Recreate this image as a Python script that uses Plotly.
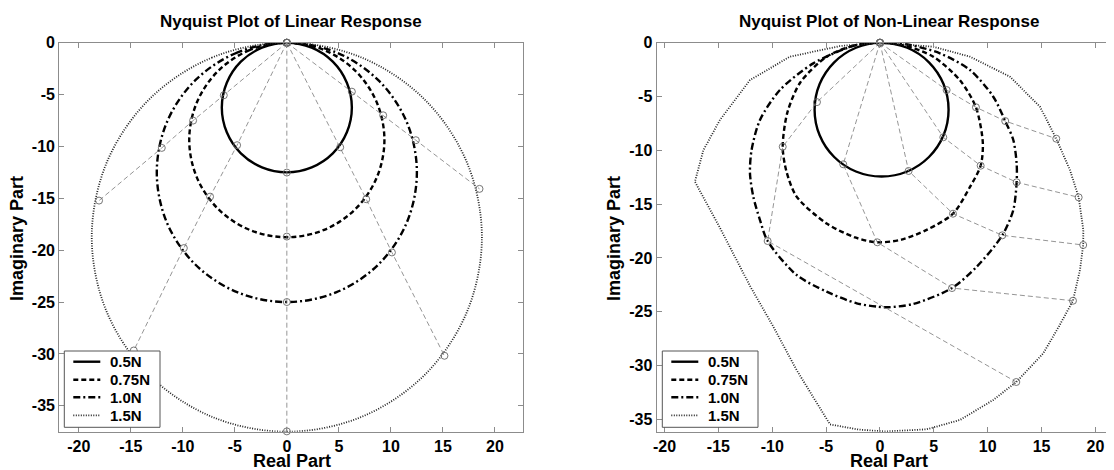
import plotly.graph_objects as go

# ---------------- data ----------------
names = ["0.5N", "0.75N", "1.0N", "1.5N"]

# Linear response curves (real part, imaginary part)
lin_05_re = [0, -2.39, -4.42, -5.77, -6.25, -5.77, -4.42, -2.39, 0, 2.39, 4.42, 5.77, 6.25, 5.77, 4.42, 2.39, 0]
lin_05_im = [0, -0.48, -1.83, -3.86, -6.25, -8.64, -10.67, -12.02, -12.5, -12.02, -10.67, -8.64, -6.25, -3.86, -1.83, -0.48, 0]
lin_075_re = [0, -3.59, -6.63, -8.66, -9.38, -8.66, -6.63, -3.59, 0, 3.59, 6.63, 8.66, 9.38, 8.66, 6.63, 3.59, 0]
lin_075_im = [0, -0.71, -2.75, -5.79, -9.38, -12.96, -16.0, -18.04, -18.75, -18.04, -16.0, -12.96, -9.38, -5.79, -2.75, -0.71, 0]
lin_10_re = [0, -4.78, -8.84, -11.55, -12.5, -11.55, -8.84, -4.78, 0, 4.78, 8.84, 11.55, 12.5, 11.55, 8.84, 4.78, 0]
lin_10_im = [0, -0.95, -3.66, -7.71, -12.5, -17.29, -21.34, -24.05, -25.0, -24.05, -21.34, -17.29, -12.5, -7.71, -3.66, -0.95, 0]
lin_15_re = [0, -7.18, -13.26, -17.32, -18.75, -17.32, -13.26, -7.18, 0, 7.18, 13.26, 17.32, 18.75, 17.32, 13.26, 7.18, 0]
lin_15_im = [0, -1.43, -5.49, -11.57, -18.75, -25.93, -32.01, -36.07, -37.5, -36.07, -32.01, -25.93, -18.75, -11.57, -5.49, -1.43, 0]

# Linear response: equal-frequency points (origin, 0.5N, 0.75N, 1.0N, 1.5N)
lin_ray1_re = [0, -6.06, -9.01, -12.02, -18.05]
lin_ray1_im = [0, -5.07, -7.51, -10.14, -15.22]
lin_ray2_re = [0, -4.78, -7.38, -9.9, -14.71]
lin_ray2_im = [0, -9.88, -14.84, -19.8, -29.67]
lin_ray3_re = [0, 0, 0, 0, 0]
lin_ray3_im = [0, -12.52, -18.69, -25.0, -37.47]
lin_ray4_re = [0, 5.13, 7.63, 10.1, 15.15]
lin_ray4_im = [0, -10.08, -15.09, -20.22, -30.18]
lin_ray5_re = [0, 6.25, 9.26, 12.4, 18.52]
lin_ray5_im = [0, -4.72, -7.0, -9.4, -14.09]

# Non-linear response curves
nl_05_re = [0, -2.23, -4.25, -5.6, -6.07, -5.6, -4.25, -2.23, 0.15, 2.53, 4.55, 5.9, 6.37, 5.9, 4.55, 2.53, 0]
nl_05_im = [0, -0.47, -1.82, -3.84, -6.22, -8.6, -10.62, -11.97, -12.44, -11.97, -10.62, -8.6, -6.22, -3.84, -1.82, -0.47, 0]
nl_075_re = [0, -2.5, -4.95, -7.4, -8.6, -9.03, -8.7, -7.74, -4.95, -2.3, -0.25, 2.0, 4.33, 6.78, 8.36, 9.35, 9.55, 8.91, 7.43, 4.95, 2.2, 0]
nl_075_im = [0, -0.3, -1.3, -3.7, -6.5, -9.67, -11.9, -14.3, -16.8, -18.1, -18.55, -18.3, -17.4, -15.89, -13.4, -11.43, -9.3, -6.0, -3.5, -1.3, -0.25, 0]
nl_10_re = [0, -2.16, -6.19, -9.29, -11.14, -11.92, -12.07, -11.76, -11.14, -10.43, -7.74, -4.95, -2.16, -0.25, 0.62, 3.09, 6.69, 8.98, 11.36, 12.38, 12.69, 12.69, 12.38, 11.63, 10.52, 8.36, 5.57, 2.79, 0]
nl_10_im = [0, -0.2, -1.92, -4.4, -7.18, -9.97, -12.14, -14.31, -16.48, -18.43, -21.59, -23.14, -24.22, -24.53, -24.59, -24.28, -22.8, -20.82, -17.9, -15.55, -12.97, -11.21, -9.04, -7.28, -5.02, -2.54, -0.99, -0.21, 0]
nl_15_re = [0, -3.71, -8.36, -12.07, -14.86, -16.4, -17.18, -14.86, -12.07, -9.9, -7.74, -4.64, -2.0, 0.5, 4.33, 7.43, 10.52, 12.66, 15.16, 16.6, 17.92, 18.57, 18.87, 18.88, 18.45, 17.64, 16.37, 14.86, 12.07, 8.36, 4.95, 0]
nl_15_im = [0, -0.31, -1.3, -3.47, -7.18, -10.0, -12.92, -17.2, -22.6, -26.39, -30.42, -35.47, -35.95, -36.13, -35.93, -35.06, -33.2, -31.53, -28.87, -26.4, -23.98, -21.12, -18.8, -17.4, -14.37, -11.83, -8.92, -5.95, -3.16, -1.3, -0.37, 0]

# Non-linear response: equal-frequency points
nl_ray1_re = [0, -5.85, -9.03, -10.43, 12.66]
nl_ray1_im = [0, -5.52, -9.67, -18.43, -31.53]
nl_ray2_re = [0, -3.41, -0.25, 6.69, 17.92]
nl_ray2_im = [0, -11.3, -18.55, -22.8, -23.98]
nl_ray3_re = [0, 2.66, 6.78, 11.36, 18.87]
nl_ray3_im = [0, -11.92, -15.89, -17.9, -18.8]
nl_ray4_re = [0, 5.88, 9.35, 12.69, 18.45]
nl_ray4_im = [0, -8.79, -11.43, -12.97, -14.37]
nl_ray5_re = [0, 6.19, 8.91, 11.63, 16.37]
nl_ray5_im = [0, -4.4, -6.0, -7.28, -8.92]

x_ticks = [-20, -15, -10, -5, 0, 5, 10, 15, 20]
y_ticks = [0, -5, -10, -15, -20, -25, -30, -35]
x_ticktext = ["-20", "-15", "-10", "-5", "0", "5", "10", "15", "20"]
y_ticktext = ["0", "-5", "-10", "-15", "-20", "-25", "-30", "-35"]

# ---------------- styles ----------------
FONT = "Liberation Sans"
styles = [
    dict(color="black", width=2.4, dash="solid"),
    dict(color="black", width=2.4, dash="5px,3px"),
    dict(color="black", width=2.4, dash="7px,3px,2px,3px"),
    dict(color="#222222", width=1.8, dash="1px,1.5px"),
]
RAY_COLOR = "#7a7a7a"

# the page shows the figure with an 8 px body margin, so lay out in page pixels
OFF = 8
W, H = 1114 - OFF, 470 - OFF


def px_x(p):
    return (p - OFF) / W


def px_y(p):
    return (H - (p - OFF)) / H


fig = go.Figure()

lin_curves = [(lin_05_re, lin_05_im), (lin_075_re, lin_075_im), (lin_10_re, lin_10_im), (lin_15_re, lin_15_im)]
nl_curves = [(nl_05_re, nl_05_im), (nl_075_re, nl_075_im), (nl_10_re, nl_10_im), (nl_15_re, nl_15_im)]
lin_rays = [(lin_ray1_re, lin_ray1_im), (lin_ray2_re, lin_ray2_im), (lin_ray3_re, lin_ray3_im),
            (lin_ray4_re, lin_ray4_im), (lin_ray5_re, lin_ray5_im)]
nl_rays = [(nl_ray1_re, nl_ray1_im), (nl_ray2_re, nl_ray2_im), (nl_ray3_re, nl_ray3_im),
           (nl_ray4_re, nl_ray4_im), (nl_ray5_re, nl_ray5_im)]

for i, (xs, ys) in enumerate(lin_curves):
    fig.add_trace(go.Scatter(x=xs, y=ys, mode="lines", name=names[i], xaxis="x", yaxis="y",
                             line=dict(shape="spline", smoothing=1.0, **styles[i]),
                             showlegend=False, cliponaxis=False, hoverinfo="skip"))
for i, (xs, ys) in enumerate(nl_curves):
    shp = "linear" if i == 3 else "spline"
    sm = 1.0 if i == 0 else 0.8
    fig.add_trace(go.Scatter(x=xs, y=ys, mode="lines", name=names[i], xaxis="x2", yaxis="y2",
                             line=dict(shape=shp, smoothing=sm, **styles[i]),
                             showlegend=False, cliponaxis=False, hoverinfo="skip"))

for xa, ya, rays in (("x", "y", lin_rays), ("x2", "y2", nl_rays)):
    for xs, ys in rays:
        fig.add_trace(go.Scatter(x=xs, y=ys, mode="lines+markers", xaxis=xa, yaxis=ya,
                                 line=dict(color=RAY_COLOR, width=0.8, dash="5px,3px"),
                                 marker=dict(symbol="circle-open", size=7, color="#666666",
                                             line=dict(width=0.9)),
                                 showlegend=False, cliponaxis=False, hoverinfo="skip"))

axis_common = dict(showline=True, linecolor="#8c8c8c", linewidth=1.3, ticks="inside",
                   ticklen=5, tickcolor="#8c8c8c", tickwidth=1, showgrid=False, zeroline=False,
                   automargin=False,
                   tickfont=dict(family=FONT, size=16, color="black", weight="bold"))

ydom = [px_y(431.7), px_y(42.7)]
fig.update_layout(
    width=W, height=H, margin=dict(l=0, r=0, t=0, b=0, autoexpand=False),
    paper_bgcolor="white", plot_bgcolor="white", showlegend=False,
    xaxis=dict(domain=[px_x(59.3), px_x(523)], range=[-21.87, 22.7], anchor="y",
               tickvals=x_ticks, ticktext=x_ticktext, mirror="ticks", **axis_common),
    yaxis=dict(domain=ydom, range=[-37.5, 0], anchor="x",
               tickvals=y_ticks, ticktext=y_ticktext, mirror="ticks", **axis_common),
    xaxis2=dict(domain=[px_x(656.7), 1.0], range=[-20.73, 21.73], anchor="y2",
                tickvals=x_ticks, ticktext=x_ticktext, mirror="ticks", **axis_common),
    yaxis2=dict(domain=ydom, range=[-36.15, 0], anchor="x2",
                tickvals=y_ticks, ticktext=y_ticktext, mirror=False, **axis_common),
)

# ---------------- legends (drawn as boxes, sample lines and text) ----------------
leg_font = dict(family=FONT, size=15, color="black", weight="bold")
row_y = [361.7, 379.7, 397.3, 415.3]
for left in (64.3, 662.3):
    fig.add_shape(type="rect", xref="paper", yref="paper",
                  x0=px_x(left), x1=px_x(left + 95.7), y0=px_y(427.3), y1=px_y(351),
                  line=dict(color="#555555", width=1), fillcolor="white", layer="above")
    for i, ry in enumerate(row_y):
        fig.add_shape(type="line", xref="paper", yref="paper",
                      x0=px_x(left + 9), x1=px_x(left + 36), y0=px_y(ry), y1=px_y(ry),
                      line=styles[i], layer="above")
        fig.add_annotation(text=names[i], xref="paper", yref="paper", x=px_x(left + 44),
                           y=px_y(ry), xanchor="left", yanchor="middle", showarrow=False,
                           font=leg_font)

ann_font_t = dict(family=FONT, size=17, color="black", weight="bold")
ann_font_a = dict(family=FONT, size=18, color="black", weight="bold")
anns = [
    dict(text="Nyquist Plot of Linear Response", x=px_x(291), y=px_y(22), font=ann_font_t),
    dict(text="Nyquist Plot of Non-Linear Response", x=px_x(888.5), y=px_y(22), font=ann_font_t),
    dict(text="Real Part", x=px_x(291.5), y=px_y(460.5), font=ann_font_a),
    dict(text="Real Part", x=px_x(888.5), y=px_y(460.5), font=ann_font_a),
    dict(text="Imaginary Part", x=px_x(17), y=px_y(239), font=ann_font_a, textangle=-90),
    dict(text="Imaginary Part", x=px_x(614), y=px_y(239), font=ann_font_a, textangle=-90),
]
for a in anns:
    fig.add_annotation(xref="paper", yref="paper", showarrow=False,
                       xanchor="center", yanchor="middle", **a)

fig.write_html("out.html")
